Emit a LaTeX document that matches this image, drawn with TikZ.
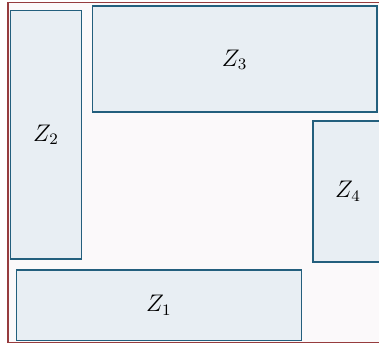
\documentclass[tikz,border=0pt]{standalone}
\usepackage{tikz}
\usetikzlibrary{positioning}
\definecolor{framered}{RGB}{150,60,62}
\definecolor{framefill}{RGB}{251,249,250}
\definecolor{zoneblue}{RGB}{35,95,125}
\definecolor{zonefill}{RGB}{232,238,243}
\tikzset{
  frame/.style={draw=framered, fill=framefill, line width=0.8pt},
  zone/.style={draw=zoneblue, fill=zonefill, line width=0.8pt},
  zonelabel/.style={font=\large},
}
\begin{document}
\begin{tikzpicture}[x=0.5pt,y=-0.5pt]
        \useasboundingbox (0,0) rectangle (379,347);
        \clip (0,0) rectangle (379,347);
        %outer region
        \draw[frame] (7.7,2.7) rectangle (390,342.5);
        %zones
        \draw[zone] (16.5,269.7) rectangle (301.3,340.3);
        \draw[zone] (10.5,10.5) rectangle (81.5,259);
        \draw[zone] (92.5,6) rectangle (376.7,112);
        \draw[zone] (312.7,121) rectangle (386,262);
        \node[zonelabel] (z1) at (158.9,305) {$Z_1$};
        \node[zonelabel] (z2) at (46,134.7) {$Z_2$};
        \node[zonelabel] (z3) at (234.6,60) {$Z_3$};
        \node[zonelabel] (z4) at (348,191.5) {$Z_4$};
\end{tikzpicture}
\end{document}
